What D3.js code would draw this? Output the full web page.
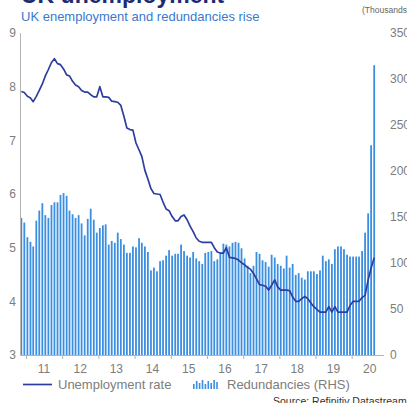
<!DOCTYPE html>
<html>
<head>
<meta charset="utf-8">
<script src="https://cdn.jsdelivr.net/npm/d3@7"></script>
<style>
  html, body { margin: 0; padding: 0; background: #fff; overflow: hidden; }
  svg { display: block; font-family: "Liberation Sans", Arial, sans-serif; }
</style>
</head>
<body>
<div id="vis"></div>
<script>
// monthly, Nov 2010 .. Aug 2020
const startMonth = [2010, 10]
const unemploymentRate = [
  7.91, 7.89,
  7.82, 7.79, 7.72, 7.82, 7.93, 8.05, 8.2, 8.32, 8.45, 8.52, 8.43, 8.41,
  8.33, 8.22, 8.2, 8.1, 8.03, 8.0, 7.93, 7.9, 7.9, 7.85, 7.81, 7.81,
  8.0, 7.81, 7.81, 7.8, 7.73, 7.72, 7.71, 7.65, 7.45, 7.23, 7.2, 7.19,
  6.95, 6.82, 6.7, 6.44, 6.28, 6.1, 6.01, 6.0, 5.99, 5.85, 5.72, 5.69,
  5.58, 5.5, 5.5, 5.58, 5.61, 5.52, 5.4, 5.3, 5.18, 5.12, 5.1, 5.1,
  5.1, 5.1, 5.0, 4.92, 4.9, 4.9, 5.0, 4.82, 4.81, 4.8, 4.77, 4.72,
  4.68, 4.63, 4.6, 4.52, 4.42, 4.31, 4.3, 4.28, 4.21, 4.3, 4.4, 4.27,
  4.21, 4.21, 4.21, 4.2, 4.08, 4.0, 4.0, 4.05, 4.09, 4.05, 3.97, 3.9,
  3.85, 3.8, 3.8, 3.8, 3.9, 3.8, 3.9, 3.8, 3.8, 3.8, 3.8, 3.92,
  4.0, 4.0, 4.0, 4.07, 4.11, 4.4, 4.62, 4.81
]
const redundancies = [
  149, 144,
  128, 123, 118, 146, 157, 165, 152, 149, 163, 166, 166, 174,
  176, 173, 157, 153, 149, 152, 143, 130, 148, 159, 147, 133,
  138, 141, 142, 120, 124, 122, 133, 126, 120, 111, 111, 118,
  117, 127, 122, 118, 112, 92, 95, 91, 102, 103, 108, 114,
  108, 110, 110, 120, 113, 108, 106, 112, 105, 102, 99, 111,
  112, 113, 102, 104, 111, 121, 120, 118, 122, 123, 122, 116,
  105, 97, 89, 97, 112, 110, 103, 101, 96, 109, 106, 99,
  97, 94, 108, 95, 99, 87, 89, 84, 82, 91, 91, 91,
  88, 92, 108, 102, 104, 99, 115, 118, 118, 115, 109, 107,
  107, 107, 107, 113, 133, 154, 228, 315
]
const years = [2011, 2012, 2013, 2014, 2015, 2016, 2017, 2018, 2019, 2020]
const yearLabels = ["11", "12", "13", "14", "15", "16", "17", "18", "19", "20"]
const leftTicks = [3, 4, 5, 6, 7, 8, 9]
const rightTicks = [0, 50, 100, 150, 200, 250, 300, 350]

const width = 407, height = 403
const lineColour = "#2e3d9f"
const barColour = "#3b8fe1"
const textGrey = "#7d7d7d"

const months = unemploymentRate.map((_, i) => new Date(startMonth[0], startMonth[1] + i, 15))

const svg = d3.select("#vis").append("svg")
  .attr("width", width)
  .attr("height", height)
  .attr("viewBox", [0, 0, width, height])

const x = d3.scaleTime()
  .domain([new Date(2011, 0, 1), new Date(2020, 0, 1)])
  .range([26, 351.7])

const yL = d3.scaleLinear().domain([3, 9]).range([355, 33])
const yR = d3.scaleLinear().domain([0, 350]).range([355, 33])

// titles (top of the main title is cut off in the original)
svg.append("text")
  .attr("x", 21).attr("y", 3)
  .attr("font-size", 23).attr("font-weight", 700)
  .attr("fill", "#1d2b73")
  .text("UK unemployment")

svg.append("text")
  .attr("x", 21).attr("y", 20.5)
  .attr("font-size", 13)
  .attr("fill", "#3b78cc")
  .text("UK enemployment and redundancies rise")

svg.append("text")
  .attr("x", 362).attr("y", 13)
  .attr("font-size", 8.5)
  .attr("fill", "#666")
  .text("(Thousands)")

// bars
svg.append("g")
  .selectAll("rect")
  .data(redundancies)
  .join("rect")
  .attr("x", (d, i) => x(months[i]) - 0.9)
  .attr("y", d => yR(d))
  .attr("width", 1.8)
  .attr("height", d => yR(0) - yR(d))
  .attr("fill", barColour)

// axis lines
svg.append("line")
  .attr("x1", 20.5).attr("x2", 20.5)
  .attr("y1", 33).attr("y2", 355.5)
  .attr("stroke", "#b4b4b4")
svg.append("line")
  .attr("x1", 20.5).attr("x2", 384)
  .attr("y1", 355.5).attr("y2", 355.5)
  .attr("stroke", "#b4b4b4")

// x axis: ticks at year starts, labels mid-year
const xAxis = g => g
  .attr("transform", "translate(0,355)")
  .call(d3.axisBottom(x)
    .tickValues(years.map(y => new Date(y, 0, 1)))
    .tickSize(4)
    .tickFormat(""))
  .call(g => g.select(".domain").remove())
  .call(g => g.selectAll(".tick line").attr("stroke", "#b4b4b4"))

svg.append("g").call(xAxis)

svg.append("g")
  .selectAll("text")
  .data(years)
  .join("text")
  .attr("x", d => x(new Date(d, 6, 1)))
  .attr("y", 373)
  .attr("text-anchor", "middle")
  .attr("font-size", 12)
  .attr("fill", textGrey)
  .text((d, i) => yearLabels[i])

// left axis labels
svg.append("g")
  .selectAll("text")
  .data(leftTicks)
  .join("text")
  .attr("x", 16)
  .attr("y", d => yL(d))
  .attr("dy", "0.35em")
  .attr("text-anchor", "end")
  .attr("font-size", 12)
  .attr("fill", textGrey)
  .text(d => d)

// right axis labels
svg.append("g")
  .selectAll("text")
  .data(rightTicks)
  .join("text")
  .attr("x", 390)
  .attr("y", d => yR(d))
  .attr("dy", "0.35em")
  .attr("font-size", 12)
  .attr("fill", textGrey)
  .text(d => d)

// unemployment line
const line = d3.line()
  .x((d, i) => x(months[i]))
  .y(d => yL(d))

svg.append("path")
  .datum(unemploymentRate)
  .attr("d", line)
  .attr("fill", "none")
  .attr("stroke", lineColour)
  .attr("stroke-width", 1.7)
  .attr("stroke-linejoin", "round")

// legend
svg.append("line")
  .attr("x1", 23).attr("x2", 52)
  .attr("y1", 384.5).attr("y2", 384.5)
  .attr("stroke", lineColour)
  .attr("stroke-width", 1.7)
svg.append("text")
  .attr("x", 58).attr("y", 389)
  .attr("font-size", 13)
  .attr("fill", textGrey)
  .text("Unemployment rate")

const iconHeights = [5, 8, 6, 9, 5, 8, 6, 9, 7]
svg.append("g")
  .selectAll("rect")
  .data(iconHeights)
  .join("rect")
  .attr("x", (d, i) => 193 + i * 2.9)
  .attr("y", d => 389 - d)
  .attr("width", 1.6)
  .attr("height", d => d)
  .attr("fill", barColour)
svg.append("text")
  .attr("x", 227).attr("y", 389)
  .attr("font-size", 13)
  .attr("fill", textGrey)
  .text("Redundancies (RHS)")

svg.append("text")
  .attr("x", 273).attr("y", 405)
  .attr("font-size", 10.5)
  .attr("fill", "#333")
  .text("Source: Refinitiv Datastream")
</script>
</body>
</html>
